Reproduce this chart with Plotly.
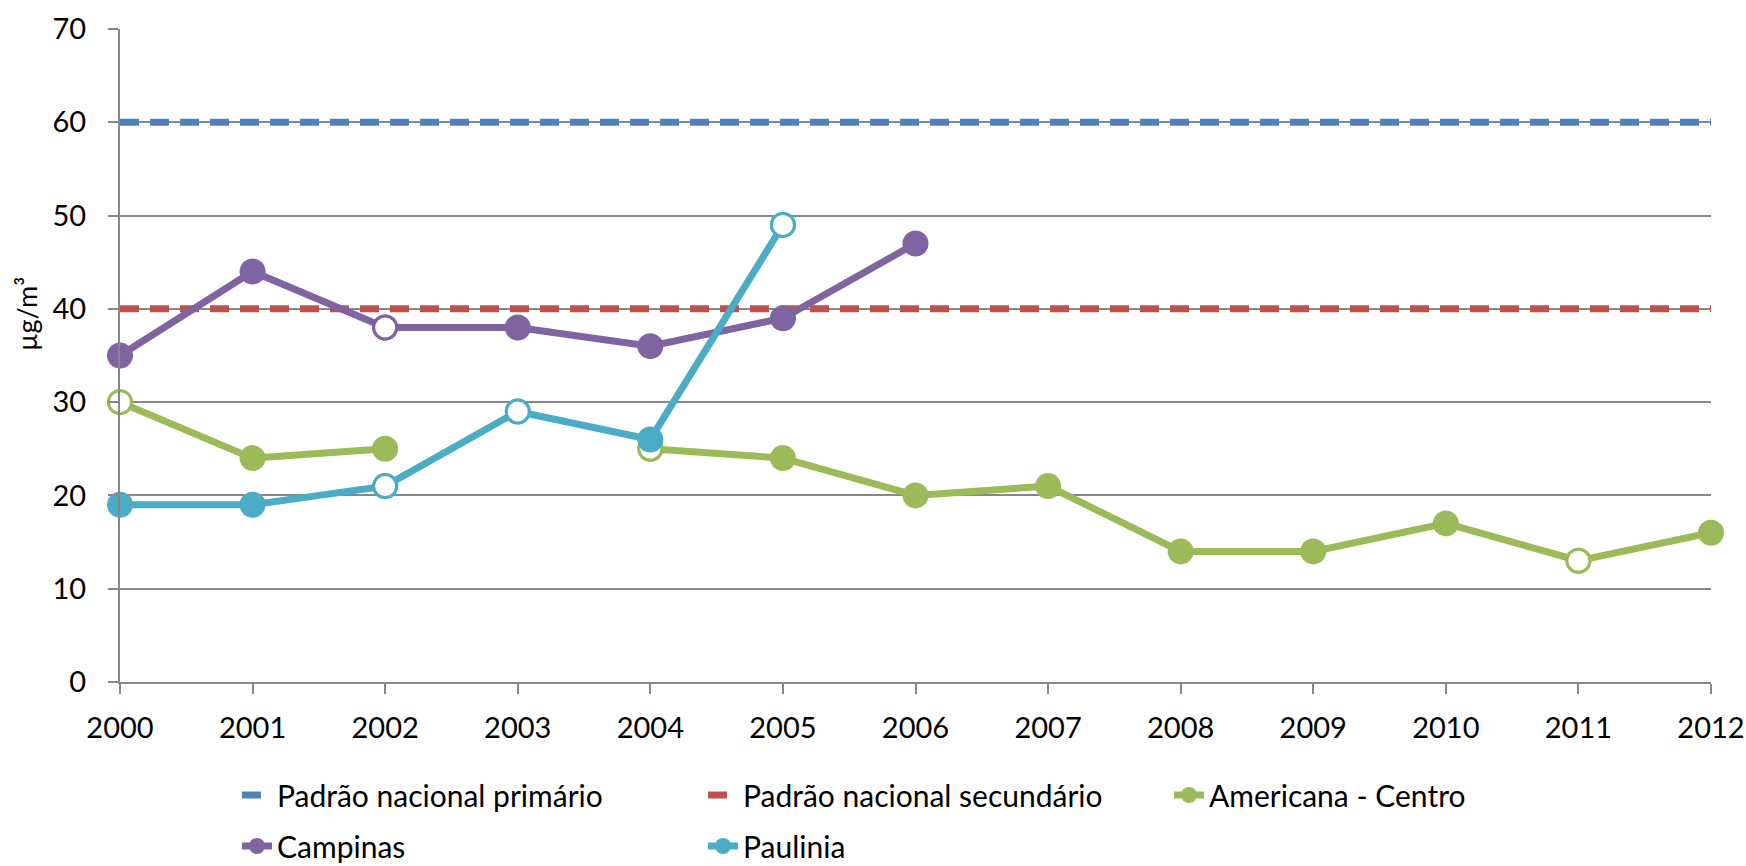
import plotly.graph_objects as go

years = list(range(2000, 2013))
primario = [60] * 13
secundario = [40] * 13
americana = [30, 24, 25, None, 25, 24, 20, 21, 14, 14, 17, 13, 16]
americana_open = [True, False, False, False, True, False, False, False, False, False, False, True, False]
campinas = [35, 44, 38, 38, 36, 39, 47, None, None, None, None, None, None]
campinas_open = [False, False, True, False, False, False, False, False, False, False, False, False, False]
paulinia = [19, 19, 21, 29, 26, 49, None, None, None, None, None, None, None]
paulinia_open = [False, False, True, True, False, True, False, False, False, False, False, False, False]

FONT = "Lato"
GRID = "#878787"
W, H = 1746, 866
ML, MR, MT, MB = 120, 35, 29, 184

fig = go.Figure()

fig.add_trace(go.Scatter(x=years, y=primario, mode="lines", name="Padrão nacional primário",
                         line=dict(color="#4F81BD", width=7, dash="19px,11px"), legend="legend"))
fig.add_trace(go.Scatter(x=years, y=secundario, mode="lines", name="Padrão nacional secundário",
                         line=dict(color="#C0504D", width=7, dash="19px,11px"), legend="legend"))


def add_series(vals, opens, name, color, legend):
    fig.add_trace(go.Scatter(x=years, y=vals, mode="lines+markers", name=name,
                             line=dict(color=color, width=7),
                             marker=dict(color=color, size=26),
                             cliponaxis=False, legend=legend))
    ox = [x for x, v, o in zip(years, vals, opens) if o and v is not None]
    oy = [v for v, o in zip(vals, opens) if o and v is not None]
    fig.add_trace(go.Scatter(x=ox, y=oy, mode="markers", showlegend=False,
                             marker=dict(color="white", size=23, line=dict(color=color, width=3)),
                             cliponaxis=False, hoverinfo="skip"))


add_series(americana, americana_open, "Americana - Centro", "#9BBB59", "legend")
add_series(campinas, campinas_open, "Campinas", "#8064A2", "legend2")
add_series(paulinia, paulinia_open, "Paulinia", "#4BACC6", "legend2")

pw = W - ML - MR
ph = H - MT - MB

legend_common = dict(orientation="h", xref="container", yref="paper",
                     x=237 / W, xanchor="left", yanchor="middle",
                     entrywidth=421, entrywidthmode="pixels",
                     font=dict(family=FONT, size=30, color="black"),
                     bgcolor="rgba(0,0,0,0)", traceorder="normal")

fig.update_layout(
    width=W, height=H,
    margin=dict(l=ML, r=MR, t=MT, b=MB, autoexpand=False),
    plot_bgcolor="white", paper_bgcolor="white",
    font=dict(family=FONT, size=29, color="black"),
    showlegend=True,
    legend=dict(y=(H - MB - 795) / ph, **legend_common),
    legend2=dict(y=(H - MB - 846) / ph, **legend_common),
    xaxis=dict(range=[2000, 2012], dtick=1, tick0=2000, showgrid=False, zeroline=False,
               showline=True, linecolor=GRID, linewidth=2,
               ticks="outside", ticklen=10, tickwidth=2, tickcolor=GRID,
               ticklabelstandoff=9,
               tickfont=dict(family=FONT, size=29, color="black")),
    yaxis=dict(range=[0, 70], dtick=10, showgrid=True, gridcolor=GRID, gridwidth=2,
               zeroline=False, showline=True, linecolor=GRID, linewidth=2,
               ticks="outside", ticklen=10, tickwidth=2, tickcolor=GRID,
               ticklabelstandoff=16,
               tickfont=dict(family=FONT, size=29, color="black")),
    annotations=[dict(text="µg/m³", x=(26 - ML) / pw, y=(H - MB - 314) / ph,
                      xref="paper", yref="paper", xanchor="center", yanchor="middle",
                      showarrow=False, textangle=-90,
                      font=dict(family=FONT, size=27, color="black"))],
)

fig.write_html("out.html", config={"displayModeBar": False},
               post_script="document.body.style.margin='0';")
